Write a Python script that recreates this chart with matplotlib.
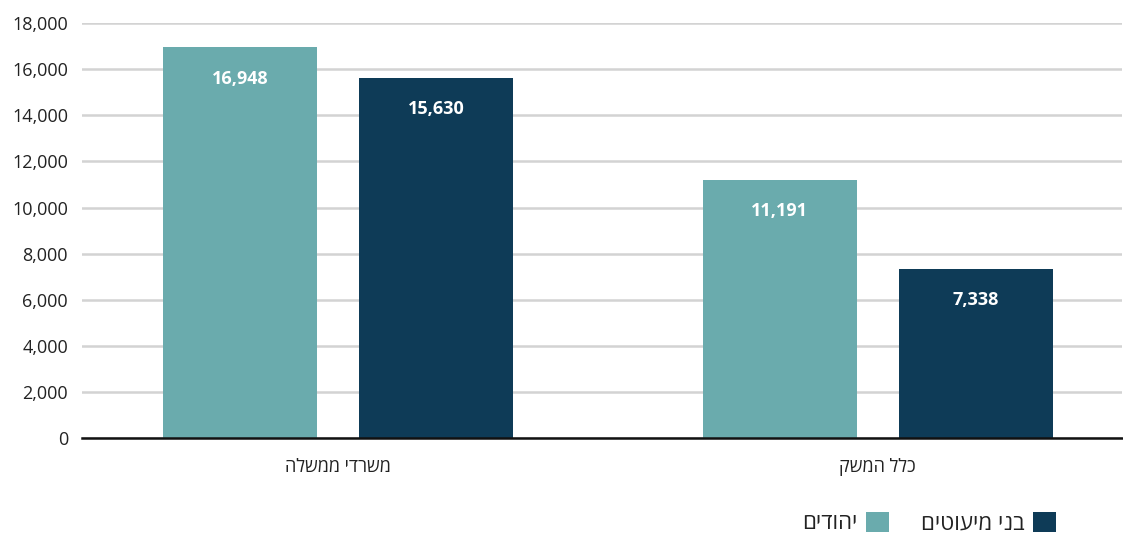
import matplotlib.pyplot as plt
import numpy as np

plt.rcParams['font.family'] = ['Open Sans', 'DejaVu Sans']

# data
categories = ["משרדי ממשלה", "כלל המשק"]
series_names = ["יהודים", "בני מיעוטים"]
jews = [16948, 11191]
minorities = [15630, 7338]
colors = ["#6aabad", "#0e3b57"]


def rtl(s):
    # matplotlib has no bidi support, flip hebrew by hand
    return s[::-1]


fig = plt.figure(figsize=(11.23, 5.35), dpi=100)
ax = fig.add_axes([0.073, 0.181, 0.926, 0.776])

x = np.arange(len(categories))
w = 0.285
off = 0.1815
b1 = ax.bar(x - off, jews, w, color=colors[0], label=rtl(series_names[0]), zorder=3)
b2 = ax.bar(x + off, minorities, w, color=colors[1], label=rtl(series_names[1]), zorder=3)

for bars in (b1, b2):
    for r in bars:
        v = r.get_height()
        ax.annotate(f"{v:,.0f}", (r.get_x() + r.get_width() / 2, v),
                    xytext=(0, -22.5), textcoords="offset points",
                    ha="center", va="center", color="white",
                    fontsize=13, fontweight="bold", zorder=4)

ax.set_ylim(0, 18000)
ax.set_xlim(-0.474, 1.452)
ax.set_yticks(np.arange(0, 18001, 2000))
ax.set_yticklabels([f"{t:,}" for t in range(0, 18001, 2000)])
ax.yaxis.grid(True, color="#d3d3d3", linewidth=1.8, zorder=0)
ax.set_axisbelow(True)
for s in ("top", "right", "left"):
    ax.spines[s].set_visible(False)
ax.spines["bottom"].set_linewidth(1.8)
ax.spines["bottom"].set_color("#111111")
ax.spines["bottom"].set_zorder(5)
ax.tick_params(axis="y", length=0, pad=10, labelsize=13, labelcolor="#222222")
ax.tick_params(axis="x", length=0, pad=14, labelsize=13, labelcolor="#222222")
ax.set_xticks(x)
ax.set_xticklabels([rtl(c) for c in categories])

ax.legend(handles=[b1, b2], ncol=2, markerfirst=False, frameon=False,
          loc="lower right", bbox_to_anchor=(0.949, -0.264), fontsize=16,
          handlelength=1.0, handleheight=1.0, columnspacing=1.45,
          handletextpad=0.4, labelcolor="#222222", borderaxespad=0.2)

fig.savefig("out.png", dpi=100)
